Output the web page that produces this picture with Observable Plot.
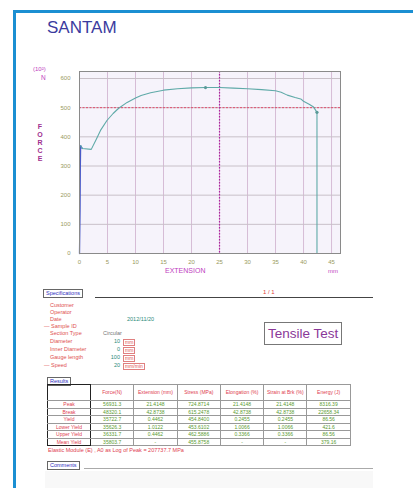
<!DOCTYPE html>
<html>
<head>
<meta charset="utf-8">
<script src="https://cdn.jsdelivr.net/npm/d3@7"></script>
<script src="https://cdn.jsdelivr.net/npm/@observablehq/plot@0.6"></script>
<style>
  html, body { margin:0; padding:0; background:#fff; }
  body { width:413px; height:488px; overflow:hidden; position:relative; font-family:"Liberation Sans", Arial, sans-serif; }
  .abs { position:absolute; white-space:nowrap; }
  #frame { position:absolute; left:13px; top:10px; width:420px; height:500px; border-left:3px solid #1b8fd2; border-top:3px solid #1b8fd2; }
  #title { left:47px; top:18px; font-size:17px; color:#3b3b9e; }
  #chart { position:absolute; left:0; top:55px; }
  .axl { color:#c040c0; font-size:7px; }
  .force { left:37px; font-size:7px; font-weight:bold; color:#a03090; width:6px; text-align:center; }
  .box { border:1px solid #666; color:#3030c0; font-size:6px; padding:0 2px; background:#fff; }
  .specl { left:50px; font-size:5.5px; color:#e05050; }
  .specv { font-size:5.5px; color:#2a8a7a; text-align:right; }
  .specu { font-size:5px; color:#e05050; border:1px solid #e08080; padding:0 1px; line-height:5px; }
  table { border-collapse:collapse; table-layout:fixed; position:absolute; font-size:5px; }
  td { border:1px solid #999; text-align:center; padding:0; height:6.5px; line-height:6px; overflow:hidden; }
  td.rh { color:#e04050; border-left:1.5px solid #222; border-right:1.5px solid #222; }
  td.hd { color:#e04050; height:15px; line-height:5.5px; }
  td.v { color:#5a9a30; }
  tr.thick td { border-top:1.5px solid #222; }
</style>
</head>
<body>
<div id="frame"></div>
<div id="title" class="abs">SANTAM</div>
<div id="chart"></div>
<div id="labels"></div>
<script>
// ---- chart data ----
const extension = [0, 0.1, 0.15, 0.2, 0.5, 2.1, 3.0, 3.75, 4.9, 6.0, 7.0, 8.5, 10, 11, 12.7, 15, 17.5, 20, 22.5, 25, 27.5, 30, 32.5, 35, 36, 37.1, 38.5, 39.5, 40, 41, 41.8, 42.4, 42.4];
const force     = [0, 150, 300, 370, 360, 357, 392, 422, 456, 480, 498, 518, 533, 542, 551, 560, 565, 568, 569, 569, 567, 565, 562, 558, 553, 543, 535, 530, 522, 512, 502, 484, 0];
const markerX = [22.5, 42.4];
const markerY = [569, 484];
const xTicks = [0, 5, 10, 15, 20, 25, 30, 35, 40, 45];
const yTicks = [0, 100, 200, 300, 400, 500, 600];
const xTickLabels = ["0", "5", "10", "15", "20", "25", "30", "35", "40", "45"];
const peakExtension = [25];
const refForce = [500];

// ---- report data ----
const specLabels = ["Customer", "Operator", "Date", "— Sample ID", "Section Type", "Diameter", "Inner Diameter", "Gauge length", "— Speed"];
const specValues = ["", "", "2012/11/20", "", "Circular", "10", "0", "100", "20"];
const specUnits  = ["", "", "", "", "", "mm", "mm", "mm", "mm/min"];
const resultHeaders = ["Force(N)", "Extension (mm)", "Stress (MPa)", "Elongation (%)", "Strain at Brk (%)", "Energy (J)"];
const resultRows = ["Peak", "Break", "Yield", "Lower Yield", "Upper Yield", "Mean Yield"];
const resultForce = ["56931.3", "48320.1", "35722.7", "35626.3", "36331.7", "35803.7"];
const resultExt = ["21.4148", "42.8738", "0.4462", "1.0122", "0.4462", "-"];
const resultStress = ["724.8714", "615.2478", "454.8400", "453.6102", "462.5886", "455.8758"];
const resultElong = ["21.4148", "42.8738", "0.2455", "1.0066", "0.3366", "-"];
const resultStrain = ["21.4148", "42.8738", "0.2455", "1.0066", "0.3366", "-"];
const resultEnergy = ["8316.39", "22658.34", "86.56", "421.6", "86.56", "379.16"];
const elasticNote = "Elastic Module (E) , A0 as Log of Peak = 207737.7 MPa";

const curve = extension.map((x, i) => ({x, y: force[i]}));
const markers = markerX.map((x, i) => ({x, y: markerY[i]}));

const plot = Plot.plot({
  width: 360, height: 225,
  marginLeft: 79, marginRight: 20, marginTop: 16, marginBottom: 27,
  x: {domain: [0, 46.6], ticks: xTicks, tickFormat: (d, i) => xTickLabels[i], tickSize: 0, tickPadding: 6, label: null},
  y: {domain: [0, 624], ticks: yTicks, tickSize: 0, tickPadding: 9, label: null},
  style: {background: "transparent", fontSize: "6px", color: "#9a9a60", fontFamily: "Liberation Sans, Arial, sans-serif", overflow: "visible"},
  marks: [
    Plot.frame({fill: "#f6f3fb", stroke: null}),
    Plot.ruleX(xTicks.slice(1), {stroke: "#d6bcd6", strokeWidth: 1}),
    Plot.ruleY(yTicks.slice(1), {stroke: "#c8c0c8", strokeWidth: 1}),
    Plot.ruleY(refForce, {stroke: "#e04a6a", strokeDasharray: "2,1.5", strokeWidth: 1}),
    Plot.ruleX(peakExtension, {stroke: "#b020a0", strokeDasharray: "1.5,1.5", strokeWidth: 1.2}),
    Plot.line(curve.slice(0, 5), {x: "x", y: "y", stroke: "#4a5ac8", strokeWidth: 1.3}),
    Plot.line(curve.slice(3), {x: "x", y: "y", stroke: "#5faaa8", strokeWidth: 1.1}),
    Plot.dot(markers, {x: "x", y: "y", r: 1.6, fill: "#5a9a98", stroke: null}),
    Plot.frame({stroke: "#8a8a8a", strokeWidth: 1})
  ]
});
document.getElementById("chart").appendChild(plot);

// ---- labels and report layout ----
const L = document.getElementById("labels");
function add(html, cls, left, top, extra) {
  const d = document.createElement("div");
  d.className = "abs " + (cls || "");
  d.style.left = left + "px"; d.style.top = top + "px";
  if (extra) Object.assign(d.style, extra);
  d.innerHTML = html;
  L.appendChild(d);
  return d;
}
add("(10²)", "axl", 33, 66, {fontSize: "6px"});
add("N", "axl", 41, 74, {fontSize: "6.5px"});
"FORCE".split("").forEach((c, i) => add(c, "force", 0, 123 + i * 8, {left: "37px"}));
add("EXTENSION", "axl", 165, 267);
add("mm", "axl", 328, 268, {fontSize: "6px"});

// Specifications
add("Specifications", "box", 43, 289, {fontSize: "5.5px", lineHeight: "7px"});
add("", "", 95, 297, {width: "278px", height: "0", borderTop: "1.5px solid #444"});
add("1 / 1", "", 263, 289, {fontSize: "6px", color: "#e04040"});
const specY = [302, 309, 316, 323, 330, 338, 346, 354, 362];
specLabels.forEach((s, i) => {
  add(s, "specl", 50, specY[i], {left: (s.startsWith("—") ? 44 : 50) + "px"});
  if (specValues[i]) {
    if (i === 2) add(specValues[i], "specv", 127, specY[i]);
    else if (i === 4) add(specValues[i], "specv", 103, specY[i], {color: "#777"});
    else add(specValues[i], "specv", 104, specY[i], {width: "16px"});
  }
  if (specUnits[i]) add(specUnits[i], "specu", 123, specY[i] + 0.5);
});
add("Tensile Test", "", 264, 322, {fontSize: "13.5px", color: "#8a3898", border: "1px solid #777", padding: "2px 3px", lineHeight: "17px"});

// Results
add("Results", "box", 47, 377, {fontSize: "5.5px", lineHeight: "6.5px"});
const t = document.createElement("table");
t.style.left = "47px"; t.style.top = "384px"; t.style.width = "303px";
let html = "<colgroup><col style='width:43px'>" + resultHeaders.map(() => "<col style='width:43.3px'>").join("") + "</colgroup>";
html += "<tr><td class='rh hd' style='border-top:1.5px solid #222'></td>" + resultHeaders.map(h => `<td class='hd'>${h}</td>`).join("") + "</tr>";
resultRows.forEach((r, i) => {
  const cls = (i === 0 || i === 3) ? " class='thick'" : "";
  const last = i === resultRows.length - 1 ? " style='border-bottom:1.5px solid #222'" : "";
  html += `<tr${cls}><td class='rh'${last}>${r}</td>` +
    [resultForce[i], resultExt[i], resultStress[i], resultElong[i], resultStrain[i], resultEnergy[i]].map(v => `<td class='v'>${v}</td>`).join("") + "</tr>";
});
t.innerHTML = html;
L.appendChild(t);
add(elasticNote, "", 48, 447, {fontSize: "5.5px", color: "#e04050"});

// Comments
add("Comments", "box", 47, 461, {fontSize: "5.5px", lineHeight: "7px"});
add("", "", 84, 468, {width: "289px", height: "0", borderTop: "1px solid #aaa"});
add("", "", 45, 471, {width: "328px", height: "20px", background: "#f8f8f8"});
</script>
</body>
</html>
